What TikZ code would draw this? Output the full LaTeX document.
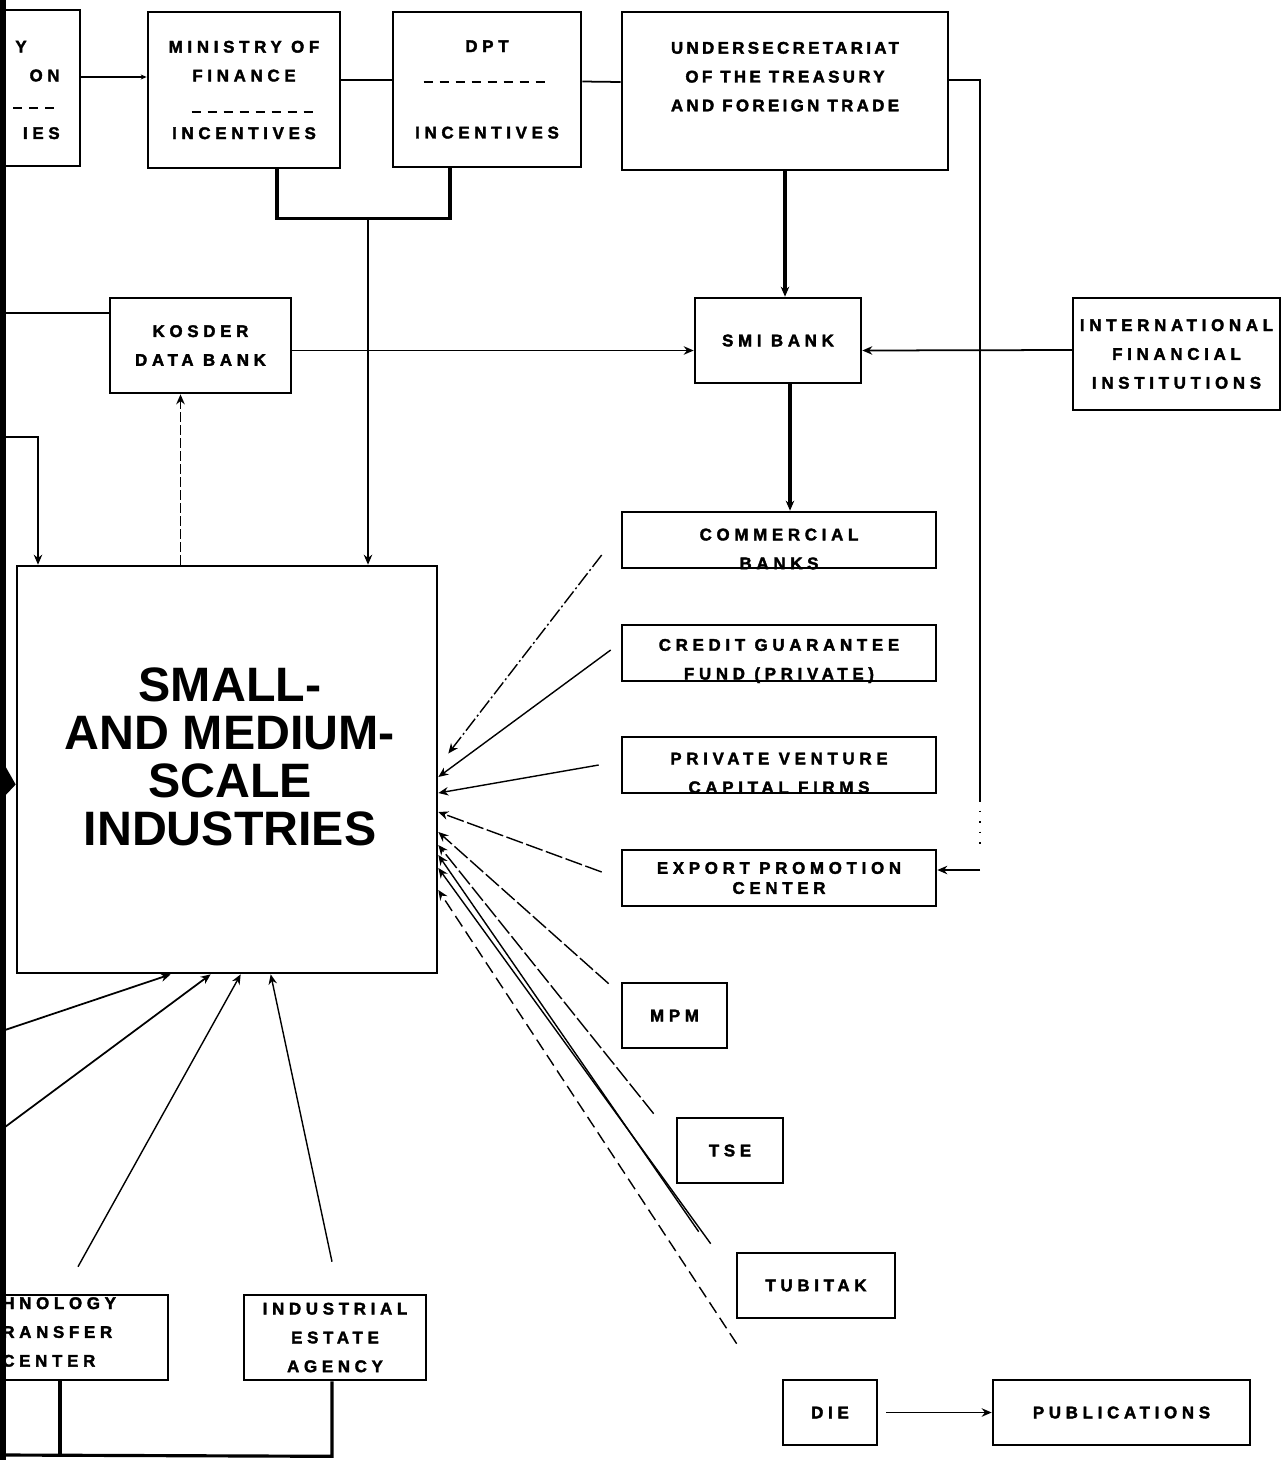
\documentclass[tikz,border=0pt]{standalone}
\usepackage{fontspec}
\newfontfamily\boxfont[LetterSpace=28,FakeBold=2.2]{Liberation Sans Bold}
\newfontfamily\boxfontn[LetterSpace=20,FakeBold=2.2]{Liberation Sans Bold}
\newfontfamily\bigfont{Liberation Sans Bold}
\usetikzlibrary{arrows.meta,calc}
\begin{document}
\begin{tikzpicture}[x=0.02cm,y=-0.02cm,
  wh/.style 2 args={minimum width=#1*0.02cm, minimum height=#2*0.02cm},
  box/.style={draw, line width=1.5pt, inner sep=0pt, align=center,
    font=\boxfont\fontsize{9.6}{16.4}\selectfont},
  txt/.style={inner sep=0pt, align=center,
    font=\boxfont\fontsize{9.6}{16.4}\selectfont},
  conn/.style={line width=1pt},
  thk/.style={line width=1.8pt},
  fan/.style={line width=0.8pt},
  tip/.style={-{Stealth[length=0.2cm,width=0.17cm]}},
  sep/.style={line width=1.7pt, dash pattern=on 0.18cm off 0.14cm},
  dashdot/.style={dash pattern=on 0.3cm off 0.06cm on 0.04cm off 0.06cm},
  longdash/.style={dash pattern=on 0.35cm off 0.07cm},
  sparse/.style={dash pattern=on 0.25cm off 0.12cm}]
\useasboundingbox (0,0) rectangle (1287,1471);
\fill[white] (0,0) rectangle (1287,1471);

% ---------- boxes ----------
\node[box, wh={180}{156}] (lb) at (-10,88) {};
\node[txt, anchor=east, align=right] (lbt) at (60,90) {Y\hspace*{0.66cm}\\ON\\[16.4pt]IES};
\node[box, wh={192}{156}] (mof) at (244,90) {MINISTRY OF\\FINANCE\\[16.4pt]INCENTIVES};
\node[box, wh={188}{155}] (dpt) at (487,89.5) {DPT\\[32.8pt]INCENTIVES};
\node[box, wh={326}{158}, font=\boxfontn\fontsize{9.6}{16.4}\selectfont] (tre) at (785,91)
  {UNDERSECRETARIAT\\OF THE TREASURY\\AND FOREIGN TRADE\\\mbox{}};
\node[box, wh={181}{95}] (kos) at (200.5,345.5) {KOSDER\\DATA BANK};
\node[box, wh={166}{85}] (smib) at (778,340.5) {SMI BANK};
\node[box, wh={207}{112}, line width=1pt] (ifi) at (1176.5,354) {INTERNATIONAL\\FINANCIAL\\INSTITUTIONS};
\node[box, wh={314}{56}] (com) at (779,540) {};
\node[txt] (comt) at (779,549) {COMMERCIAL\\BANKS};
\node[box, wh={314}{56}] (cgf) at (779,653) {};
\node[txt] (cgft) at (779,661) {CREDIT GUARANTEE\\FUND (PRIVATE)};
\node[box, wh={314}{56}] (pvc) at (779,765) {};
\node[txt] (pvct) at (779,773) {PRIVATE VENTURE\\CAPITAL FIRMS};
\node[box, wh={314}{56}] (epc) at (779,878) {EXPORT PROMOTION\\[-5pt]CENTER};
\node[box, wh={105}{65}] (mpm) at (674.5,1015.5) {MPM};
\node[box, wh={106}{65}] (tse) at (730,1150.5) {TSE};
\node[box, wh={158}{65}] (tub) at (816,1285.5) {TUBITAK};
\node[box, wh={94}{65}] (die) at (830,1412.5) {DIE};
\node[box, wh={257}{65}] (pub) at (1121.5,1412.5) {PUBLICATIONS};
\node[box, wh={420}{407}] (smi) at (227,769.5) {};
\node[inner sep=0pt, align=center, font=\bigfont\fontsize{27.5}{27.3}\selectfont] (smit) at (230,757)
  {SMALL-\\AND MEDIUM-\\SCALE\\INDUSTRIES};
\node[box, wh={268}{85}] (ttc) at (34,1337.5) {};
\node[txt, anchor=west, align=left] (ttct) at (2,1332) {HNOLOGY\\RANSFER\\CENTER};
\node[box, wh={182}{85}] (iea) at (335,1337.5) {INDUSTRIAL\\ESTATE\\AGENCY};

% ---------- separators ----------
\draw[sep] ($(lb.east)+(-68,20)$) -- ($(lb.east)+(-22,20)$);
\draw[sep] ($(mof.west)+(45,22)$) -- ($(mof.west)+(170,22)$);
\draw[sep] ($(dpt.west)+(32,-7.5)$) -- ($(dpt.west)+(157,-7.5)$);

% ---------- left edge bar ----------
\coordinate (etop) at (3,0);
\coordinate (ebot) at (3,1460);
\draw[line width=0.11cm] (etop) -- (ebot);

% ---------- top connectors ----------
\draw[conn, -{Stealth[length=0.12cm,width=0.1cm]}] ($(lb.east)+(0,-11)$) -- ($(mof.west)+(0,-13)$);
\draw[conn] ($(mof.east)+(0,-10)$) -- ($(dpt.west)+(0,-9.5)$);
\draw[conn] ($(dpt.east)+(0,-8)$) -- ($(tre.west)+(0,-9)$);
\coordinate (jn) at (368,217);
\draw[thk] ($(mof.south)+(33,0)$) |- ($(dpt.south)+(-37,50)$) -- ($(dpt.south)+(-37,0)$);
\draw[conn, tip] (jn) -- (jn |- smi.north);
\draw[thk, tip] (tre.south) -- (tre.south |- smib.north);
\draw[thk, tip] ($(smib.south)+(12,0)$) -- ($(smib.south |- com.north)+(12,0)$);
\draw[conn, tip] ($(kos.east)+(0,5)$) -- ($(smib.west)+(0,10)$);
\draw[conn, tip] ($(ifi.west)+(0,-4)$) -- ($(smib.east)+(0,10)$);

% right vertical from treasury to export promotion
\coordinate (rv) at (980,80);
\coordinate (rm) at (980,800);
\coordinate (rd) at (980,845);
\coordinate (rb) at (980,870);
\draw[conn] ($(tre.east)+(0,-11)$) -- (rv) -- (rm);
\draw[line width=0.7pt, dash pattern=on 1pt off 5pt] (rm) -- (rd);
\draw[conn, tip] (rb) -- (rb -| epc.east);

% kosder <-> smi
\draw[conn, tip, dash pattern=on 0.2cm off 0.06cm] (smi.north -| kos.south) ++(-20,0) coordinate (ks) -- (ks |- kos.south);

% left edge connectors
\coordinate (e1) at (6,313);
\draw[conn] (e1) -- (e1 -| kos.west);
\coordinate (e2) at (6,437);
\coordinate (e2b) at (38,437);
\draw[conn, tip] (e2) -- (e2b) -- (e2b |- smi.north);
\fill ($(smi.west)+(-17,-15)$) -- ($(smi.west)+(0,15)$) -- ($(smi.west)+(-17,33)$) -- cycle;

% bottom-left connectors
\coordinate (e4) at (5,1030);
\coordinate (e5) at (5,1127);
\draw[conn, tip] (e4) -- ($(smi.south west)+(155,0)$);
\draw[conn, tip] (e5) -- ($(smi.south west)+(195,0)$);
\draw[fan, tip] ($(ttc.north)+(44,-27)$) -- ($(smi.south west)+(225,0)$);
\draw[fan, tip] ($(iea.north)+(-3,-32)$) -- ($(smi.south west)+(255,0)$);
\coordinate (bl) at (5,1455);
\draw[thk] (bl) -- ($(iea.south)+(-3,75)$) -- ($(iea.south)+(-3,0)$);
\draw[thk] ($(ttc.south)+(26,0)$) -- ($(ttc.south)+(26,75)$);

% fan from right boxes into SMI
\draw[fan, tip, dashdot] ($(com.west)+(-19,15)$) -- ($(smi.east)+(10,-16)$);
\draw[fan, tip] ($(cgf.west)+(-10,-3)$) -- ($(smi.east)+(0,7.5)$);
\draw[fan, tip] ($(pvc.west)+(-22,0)$) -- ($(smi.east)+(0,23.5)$);
\draw[fan, tip, longdash] ($(epc.west)+(-19,-6)$) -- ($(smi.east)+(0,42.5)$);
\draw[fan, tip, longdash] ($(mpm.north west)+(-12,2)$) -- ($(smi.east)+(0,62.5)$);
\draw[fan, tip, longdash] ($(tse.north west)+(-22,-3)$) -- ($(smi.east)+(0,75.5)$);
\draw[fan, tip] ($(tub.north west)+(-37,-20)$) -- ($(smi.east)+(0,85.5)$);
\draw[fan, tip] ($(tub.north west)+(-25,-8)$) -- ($(smi.east)+(0,98.5)$);
\draw[fan, tip, sparse] ($(die.north west)+(-45,-35)$) -- ($(smi.east)+(0,120.5)$);

% DIE -> publications
\draw[conn, tip] ($(die.east)+(8,0)$) -- (pub.west);
\end{tikzpicture}
\end{document}
